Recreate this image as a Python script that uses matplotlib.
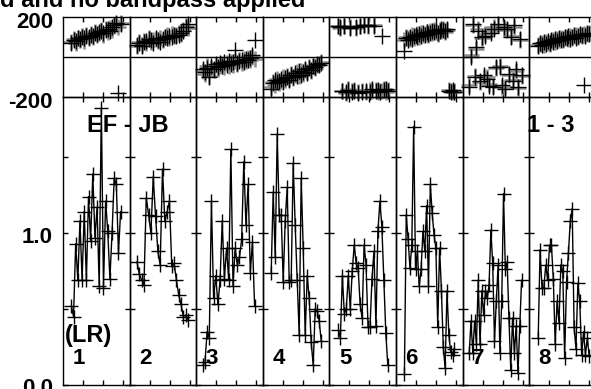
import numpy as np
import matplotlib
matplotlib.use('Agg')
import matplotlib.pyplot as plt
from matplotlib.ticker import FixedLocator
from matplotlib.transforms import ScaledTranslation

plt.rcParams['font.family'] = ['Liberation Sans', 'DejaVu Sans']
plt.rcParams['font.weight'] = 'bold'

# ---------------- data ----------------
title_text = "d and no bandpass applied"
baseline_label = "EF - JB"
channel_label = "1 - 3"
pol_label = "(LR)"
panel_labels = ["1", "2", "3", "4", "5", "6", "7", "8"]

# time range (per scan) of the samples
t_start = [4.2, 3.7, 3.3, 4.2, 4.5, 4.2, 3.3, 4.5]
t_end = [28.8, 29.2, 29.2, 29.2, 29.2, 29.2, 29.5, 30.0]

amp1 = [0.52, 0.45, 0.93, 0.69, 1.08, 0.69, 1.14, 0.69, 1.24, 0.95, 1.39, 0.97,
        1.17, 0.65, 1.82, 0.64, 1.21, 1.01, 0.70, 1.00, 1.36, 1.32, 0.87, 1.14]
amp2 = [0.81, 0.73, 0.69, 0.66, 1.23, 1.12, 1.00, 1.37, 1.11, 0.88, 0.79, 1.42,
        1.08, 1.14, 1.21, 0.78, 0.80, 0.69, 0.59, 0.53, 0.45, 0.46, 0.43]
amp3 = [0.13, 0.15, 0.35, 0.31, 1.21, 0.57, 0.72, 0.53, 0.69, 1.08, 0.70, 0.90,
        0.69, 1.55, 0.65, 0.90, 0.79, 0.84, 0.96, 1.47, 1.05, 1.32, 0.74, 0.94, 0.52]
amp4 = [0.74, 1.27, 0.84, 1.65, 1.12, 1.12, 0.68, 1.08, 1.30, 0.68, 0.69, 1.46,
        1.05, 0.69, 0.33, 1.36, 0.90, 0.33, 0.72, 0.57, 0.28, 0.13, 0.50, 0.49, 0.42, 0.29]
amp5 = [0.36, 0.31, 0.72, 0.47, 0.50, 0.72, 0.50, 0.75, 0.92, 0.80, 0.77, 0.53,
        0.44, 0.92, 0.79, 0.38, 0.38, 0.70, 0.88, 0.39, 1.01, 1.21, 1.04, 0.69, 0.34, 0.13]
amp6 = [0.07, 1.12, 0.96, 0.77, 0.92, 1.70, 0.76, 0.88, 0.65, 0.76, 1.01, 0.88,
        1.18, 0.65, 1.32, 1.13, 0.99, 0.90, 0.38, 0.90, 0.62, 0.25, 0.11, 0.62,
        0.33, 0.22, 0.20, 0.24]
amp7 = [0.21, 0.42, 0.21, 0.42, 0.27, 0.69, 0.27, 0.62, 0.46, 0.62, 0.57, 0.66,
        1.02, 0.80, 0.29, 0.55, 0.79, 0.21, 0.55, 1.26, 0.76, 0.81, 0.44, 0.10,
        0.44, 0.21, 0.39, 0.08, 0.39, 0.69]
amp8 = [0.31, 0.89, 0.64, 0.64, 0.79, 0.69, 0.92, 0.92, 0.70, 0.27, 0.55, 0.41,
        0.79, 0.75, 0.18, 0.68, 0.87, 1.08, 1.16, 0.38, 0.24, 0.67, 0.55, 0.20,
        0.35, 0.20, 0.31, 0.19]

ph1 = [70, 85, 80, 95, 90, 100, 95, 105, 100, 110, 105, 120, 115, 125, 130, 120,
       135, 140, 130, 150, 160, 170, -178, 165]
ph2 = [62, 70, 55, 75, 80, 90, 85, 70, 95, 85, 75, 90, 100, 95, 105, 100, 110,
       105, 110, 120, 130, 150, 165]
ph3 = [-60, -75, -55, -100, -45, -60, -35, -50, -30, -45, -25, -40, -20, -35, -25,
       35, -30, -20, -15, -25, -10, -15, -5, 10, 85]
ph4 = [-160, -130, -115, -125, -120, -110, -125, -105, -100, -115, -90, -100, -80,
       -95, -70, -90, -75, -60, -80, -55, -65, -45, -50, -35, -40, -30]
ph5 = [155, 150, -170, 158, -175, -165, 148, -175, -170, 152, -178, 156, -172, 160,
       -168, 162, -175, -160, 158, -170, -165, -172, 108, -165, -160, -168]
ph6 = [30, 95, 85, 100, 90, 105, 110, 100, 115, 105, 120, 110, 125, 115, 120, 130,
       125, 135, 120, 130, 140, 135, 130, 140, -170, -175, -165, -172]
ph7 = [-150, 0, 167, -100, 50, 133, -117, 100, -90, 108, -108, -142, 120, -150, 142,
       -50, 167, -50, -140, 150, -158, 142, -83, 100, -120, 160, -60, -150, 90, -90]
ph8 = [55, 70, 60, 75, 65, 80, 70, 85, 75, 90, 80, 95, 85, 90, 100, 95, 105, 90,
       100, 110, 95, 105, 115, 110, -137, 105, 120, 115]

phg1 = [78, 92, 72, 98, 88, 106, 84, 112, 96, 118, 102, 126, 110, 122, 138, 112,
        142, 128, 148, 138, 156, 166, 150, 172]
phg2 = [58, 76, 64, 82, 72, 96, 78, 88, 92, 80, 98, 86, 104, 112, 96, 118, 108,
        114, 122, 116, 138, 156, 148]
phg3 = [-70, -85, -45, -95, -55, -65, -40, -60, -45, -35, -50, -30, -45, -25, -40,
        -20, -35, -15, -30, -10, -20, -5, -15, 0, -10]
phg4 = [-150, -125, -140, -110, -130, -120, -100, -115, -95, -110, -85, -105, -90,
        -75, -95, -70, -85, -65, -75, -50, -70, -45, -55, -40, -35, -25]
phg5 = [158, 148, -168, 155, -178, -160, 152, -170, -165, 148, -175, 158, -168, 162,
        -172, 155, -165, -170, 160, -162, -175, -168, -170, -160, -172, -165]
phg6 = [85, 100, 95, 90, 110, 95, 105, 115, 100, 120, 110, 115, 125, 110, 130, 120,
        135, 125, 115, 135, 130, 140, 125, 135, -165, -170, -175, -168]
phg7 = [-140, 10, 160, -95, 40, 140, -125, 95, -100, 115, -100, -135, 130, -145, 150,
        -55, 160, -45, -150, 145, -150, 135, -90, 105, -115, 150, -70, -155, 85, -95]
phg8 = [60, 65, 70, 62, 78, 72, 68, 82, 88, 78, 92, 85, 98, 88, 95, 102, 92, 108,
        98, 105, 112, 100, 110, 105, 115, 112, 118, 120]

amps = [amp1, amp2, amp3, amp4, amp5, amp6, amp7, amp8]
phases = [ph1, ph2, ph3, ph4, ph5, ph6, ph7, ph8]
phases_grey = [phg1, phg2, phg3, phg4, phg5, phg6, phg7, phg8]

# ---------------- layout ----------------
W, H = 591, 389
fig = plt.figure(figsize=(W / 100, H / 100), dpi=100)
fig.patch.set_facecolor('white')

left0 = 63 / W
pw = 66.6 / W
top_b = 1 - 97.3 / H
top_h = 80 / H
bot_b = 1 - 385 / H
bot_h = (385 - 97.3) / H

FS_TICK = 16
FS_TXT = 17
FS_NUM = 16

for i in range(8):
    axt = fig.add_axes([left0 + i * pw, top_b, pw, top_h])
    axb = fig.add_axes([left0 + i * pw, bot_b, pw, bot_h])
    t = np.linspace(t_start[i], t_end[i], len(amps[i]))

    # phase panel
    axt.plot(t, phases_grey[i], linestyle='none', marker='+', color='#8c8c8c',
             ms=11, mew=1.8, clip_on=False)
    axt.plot(t, phases[i], linestyle='none', marker='+', color='black',
             ms=11, mew=1.0, clip_on=False)
    axt.axhline(0, color='black', lw=1)
    axt.set_xlim(0, 33.3)
    axt.set_ylim(-200, 200)
    axt.set_xticks([10, 20, 30])
    axt.tick_params(axis='x', direction='in', top=True, bottom=True, length=3.5,
                    width=1, labelbottom=False)
    axt.set_yticks([-200, 200])
    axt.set_yticklabels(['-200', '200'])
    axt.tick_params(axis='y', length=0, pad=7.2, labelsize=FS_TICK,
                    labelleft=(i == 0))

    # amplitude panel
    axb.plot(t, amps[i], color='black', lw=1.0, marker='+', ms=10, mew=1.0,
             clip_on=False)
    axb.set_xlim(0, 33.3)
    axb.set_ylim(0, 1.893)
    axb.set_xticks([10, 20, 30])
    axb.tick_params(axis='x', direction='in', top=True, bottom=True, length=3.5,
                    width=1, labelbottom=False)
    axb.set_yticks([0.0, 1.0])
    axb.set_yticklabels(['0.0', '1.0'])
    axb.yaxis.set_minor_locator(FixedLocator([0.5, 1.5]))
    axb.tick_params(axis='y', which='both', direction='in', left=True, right=True,
                    length=3.6, width=1, pad=7.2, labelsize=FS_TICK,
                    labelleft=(i == 0))
    axb.text(9.5 / 66.6, (385 - 363.5) / 287.7, panel_labels[i],
             transform=axb.transAxes, fontsize=FS_NUM, fontweight='bold',
             ha='left', va='baseline')

    if i == 0:
        shift_t = ScaledTranslation(0, -3 / 100, fig.dpi_scale_trans)
        for lab in axt.get_yticklabels():
            lab.set_transform(lab.get_transform() + shift_t)
        shift_b = ScaledTranslation(0, -1.5 / 100, fig.dpi_scale_trans)
        for lab in axb.get_yticklabels():
            lab.set_transform(lab.get_transform() + shift_b)

    for ax in (axt, axb):
        for s in ax.spines.values():
            s.set_linewidth(1)
            s.set_color('black')
        ax.set_facecolor('none')

fig.text(305 / W, 1 - 7.5 / H, title_text, fontsize=FS_TXT, fontweight='bold',
         ha='right', va='baseline')
fig.text(87 / W, 1 - 132 / H, baseline_label, fontsize=FS_TXT, fontweight='bold',
         ha='left', va='baseline')
fig.text(527 / W, 1 - 132 / H, channel_label, fontsize=FS_TXT, fontweight='bold',
         ha='left', va='baseline')
fig.text(65 / W, 1 - 342.0 / H, pol_label, fontsize=FS_TXT, fontweight='bold',
         ha='left', va='baseline')

fig.savefig('out.png', dpi=100)
